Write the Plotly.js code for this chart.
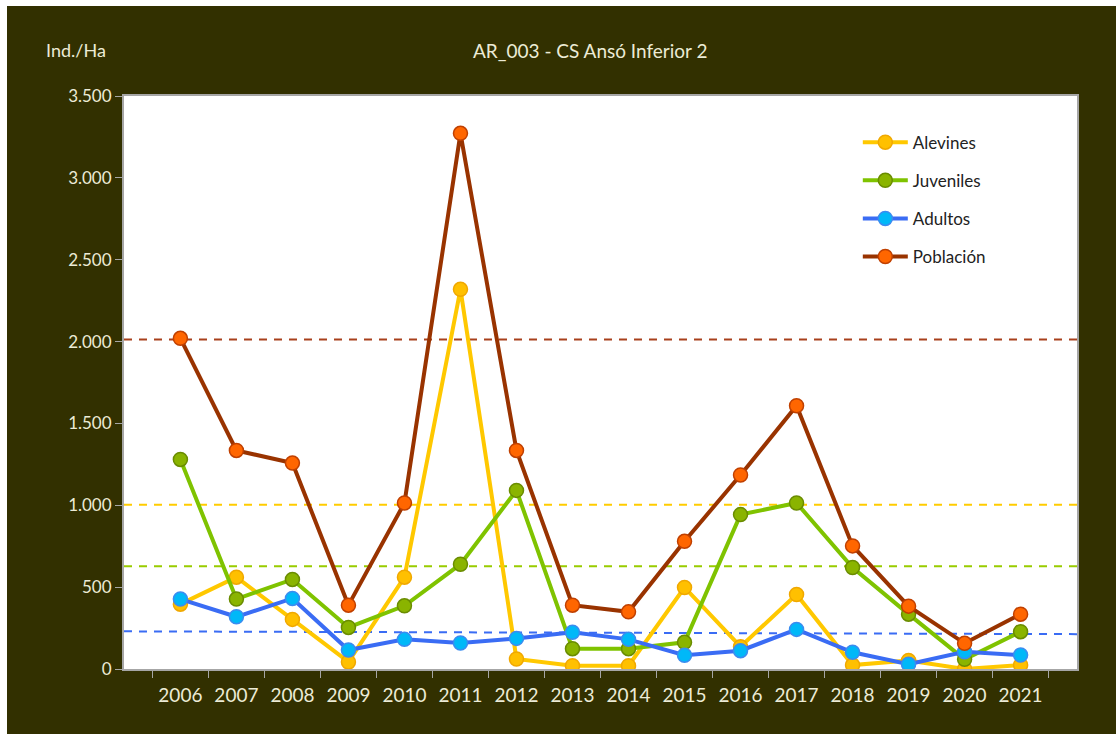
<!DOCTYPE html>
<html>
<head>
<meta charset="utf-8">
<script src="https://cdn.plot.ly/plotly-3.0.1.min.js"></script>
<style>
body {margin: 0; background: #ffffff;}
#graph {position: absolute; left: 7px; top: 6px; width: 1109px; height: 728px;}
</style>
</head>
<body>
<div id="graph"></div>
<script>
var years = ['2006','2007','2008','2009','2010','2011','2012','2013','2014','2015','2016','2017','2018','2019','2020','2021'];
var alevines = [396, 561, 303, 43, 561, 2319, 61, 20, 20, 498, 136, 455, 24, 52, 0, 24];
var juveniles = [1280, 427, 547, 254, 386, 640, 1091, 124, 124, 163, 943, 1014, 620, 335, 59, 228];
var adultos = [427, 319, 431, 116, 181, 159, 187, 224, 181, 84, 112, 242, 102, 29, 105, 85];
var poblacion = [2020, 1335, 1258, 390, 1014, 3272, 1335, 390, 349, 780, 1185, 1608, 752, 384, 157, 335];

// reference levels (dashed lines), start and end value
var refPoblacion = [2012, 2012];
var refAlevines = [1004, 1004];
var refJuveniles = [628, 628];
var refAdultos = [230, 213];

var font = 'Lato, "Open Sans", sans-serif';
var cream = '#ecebd6';

function serie(name, y, lineColor, fill, edge) {
    return {
        x: years, y: y, name: name, legendgroup: name,
        mode: 'lines+markers',
        line: {color: lineColor, width: 4},
        marker: {color: fill, size: 14, line: {color: edge, width: 1.5}}
    };
}

function refLine(v, color) {
    return {
        type: 'line', xref: 'paper', yref: 'y',
        x0: 0, x1: 1, y0: v[0], y1: v[1],
        line: {color: color, width: 2, dash: '8px,7px'},
        layer: 'below'
    };
}

var data = [
    serie('Alevines', alevines, '#ffc800', '#ffc000', '#f0a800'),
    serie('Juveniles', juveniles, '#7fc300', '#8ab400', '#6a8c00'),
    serie('Adultos', adultos, '#3a6cf4', '#00b8f8', '#3a8cf0'),
    serie('Población', poblacion, '#993300', '#ff6600', '#c04000')
];

var layout = {
    paper_bgcolor: '#323000',
    plot_bgcolor: '#ffffff',
    separators: ',.',
    margin: {l: 117, r: 39, t: 90, b: 65},
    font: {family: font, color: cream, size: 17},
    showlegend: true,
    legend: {
        x: 0.77, y: 0.95, xanchor: 'left', yanchor: 'top',
        bgcolor: 'rgba(0,0,0,0)',
        font: {family: font, size: 17, color: '#222222'},
        itemwidth: 45,
        traceorder: 'grouped',
        tracegroupgap: 13
    },
    xaxis: {
        type: 'category',
        showgrid: false,
        showline: true, mirror: true, linecolor: '#a6a6a6', linewidth: 2,
        ticks: 'outside', tickson: 'boundaries', ticklen: 7, tickcolor: '#a6a6a6',
        ticklabelstandoff: 8,
        tickfont: {family: font, size: 19, color: cream},
        zeroline: false
    },
    yaxis: {
        range: [0, 3500],
        dtick: 500,
        tickformat: ',d',
        showgrid: false,
        showline: true, mirror: true, linecolor: '#a6a6a6', linewidth: 2,
        ticks: 'outside', ticklen: 7, tickcolor: '#a6a6a6',
        tickfont: {family: font, size: 17, color: cream},
        zeroline: false
    },
    shapes: [
        refLine(refPoblacion, '#a8401c'),
        refLine(refAlevines, '#ffcc00'),
        refLine(refJuveniles, '#99cc00'),
        refLine(refAdultos, '#3a6cf4')
    ],
    annotations: [
        {text: 'AR_003 - CS Ansó Inferior 2', xref: 'paper', yref: 'paper', x: 0.49, y: 1.08,
         xanchor: 'center', yanchor: 'middle', showarrow: false, font: {family: font, size: 19, color: cream}},
        {text: 'Ind./Ha', xref: 'paper', yref: 'paper', x: -0.05, y: 1.08,
         xanchor: 'center', yanchor: 'middle', showarrow: false, font: {family: font, size: 18, color: cream}}
    ]
};

Plotly.newPlot('graph', data, layout, {displayModeBar: false});
</script>
</body>
</html>
